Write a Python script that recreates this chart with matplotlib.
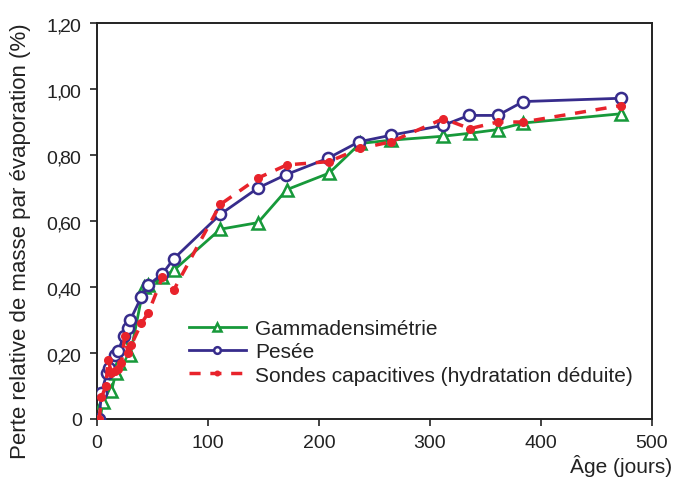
import matplotlib
matplotlib.use("Agg")
import matplotlib.pyplot as plt
from matplotlib.ticker import FixedLocator

plt.rcParams['font.family'] = ['Liberation Sans', 'DejaVu Sans']
plt.rcParams['mathtext.default'] = 'regular'

# Gammadensimétrie
gamma_age = [3, 5, 13, 17, 20, 25, 30, 42, 46, 59, 69, 111, 145, 171, 209, 237, 265, 312, 336, 361, 384, 472]
gamma_loss = [0.0, 0.05, 0.085, 0.14, 0.17, 0.22, 0.195, 0.40, 0.405, 0.43, 0.45, 0.575, 0.595, 0.695,
              0.745, 0.835, 0.845, 0.857, 0.866, 0.877, 0.897, 0.925]

# Pesée
pesee_age = [2, 4, 9, 11, 16, 19, 24, 28, 30, 40, 46, 59, 69, 111, 145, 170, 208, 236, 265, 312, 335, 361, 384, 472]
pesee_loss = [0.0, 0.08, 0.14, 0.155, 0.195, 0.205, 0.25, 0.275, 0.30, 0.37, 0.405, 0.44, 0.485, 0.62,
              0.70, 0.74, 0.79, 0.84, 0.86, 0.89, 0.92, 0.92, 0.962, 0.972]

# Sondes capacitives (hydratation déduite)
sondes_age = [2, 4, 8, 10, 13, 16, 19, 22, 25, 28, 31, 40, 46, 59, 69, 111, 145, 171, 209, 237, 265,
              312, 336, 361, 384, 472]
sondes_loss = [0.0, 0.065, 0.10, 0.18, 0.14, 0.146, 0.15, 0.17, 0.25, 0.20, 0.225, 0.29, 0.32, 0.43,
               0.39, 0.65, 0.73, 0.77, 0.78, 0.82, 0.84, 0.91, 0.88, 0.90, 0.90, 0.95]

y_ticks = [0, 0.2, 0.4, 0.6, 0.8, 1.0, 1.2]
y_tick_labels = ["0", "0,20", "0,40", "0,60", "0,80", "1,00", "1,20"]
x_ticks = [0, 100, 200, 300, 400, 500]

green = "#17993a"
blue = "#372c8c"
red = "#e8232b"
text_color = "#222222"


def tight_comma(label):
    # decimal comma set with a reduced advance, as in the printed axis
    if "," not in label:
        return label
    whole, frac = label.split(",")
    return r"$" + whole + r"{,}\!" + frac + r"$"


fig = plt.figure(figsize=(6.76, 4.81), dpi=100)
ax = fig.add_axes([0.1435, 0.127, 0.821, 0.823])

ax.plot(gamma_age, gamma_loss, color=green, lw=2.0, marker="^", markersize=8.5,
        markerfacecolor="white", markeredgecolor=green, markeredgewidth=1.8,
        label="Gammadensimétrie", zorder=3)
ax.plot(pesee_age, pesee_loss, color=blue, lw=2.0, marker="o", markersize=8,
        markerfacecolor="white", markeredgecolor=blue, markeredgewidth=1.8,
        label="Pesée", zorder=4)
ax.plot(sondes_age, sondes_loss, color=red, lw=2.5, ls=(0, (3.2, 2.8)), marker="o", markersize=5.5,
        markerfacecolor=red, markeredgecolor=red, label="Sondes capacitives (hydratation déduite)",
        zorder=5)

ax.set_xlim(0, 500)
ax.set_ylim(0, 1.2)
ax.xaxis.set_major_locator(FixedLocator(x_ticks))
ax.set_yticks(y_ticks)
ax.set_yticklabels([tight_comma(s) for s in y_tick_labels])
ax.tick_params(axis="both", direction="out", length=5, width=1.2, labelsize=14,
               colors=text_color, top=False, right=False)
ax.tick_params(axis="y", pad=6)
ax.tick_params(axis="x", pad=6)
for sp in ax.spines.values():
    sp.set_linewidth(1.4)
    sp.set_color("#222222")

ax.set_ylabel("Perte relative de masse par évaporation (%)", fontsize=16, color=text_color)
ax.yaxis.set_label_coords(-0.119, 0.452)
fig.text(0.994, 0.008, "Âge (jours)", ha="right", va="bottom", fontsize=15, color=text_color)

leg = ax.legend(loc="upper left", bbox_to_anchor=(0.15, 0.273), frameon=False, fontsize=15,
                handlelength=2.75, handletextpad=0.45, labelspacing=0.2, numpoints=1,
                markerscale=0.6, borderaxespad=0)
for t in leg.get_texts():
    t.set_color(text_color)

fig.savefig("out.png", dpi=100)
